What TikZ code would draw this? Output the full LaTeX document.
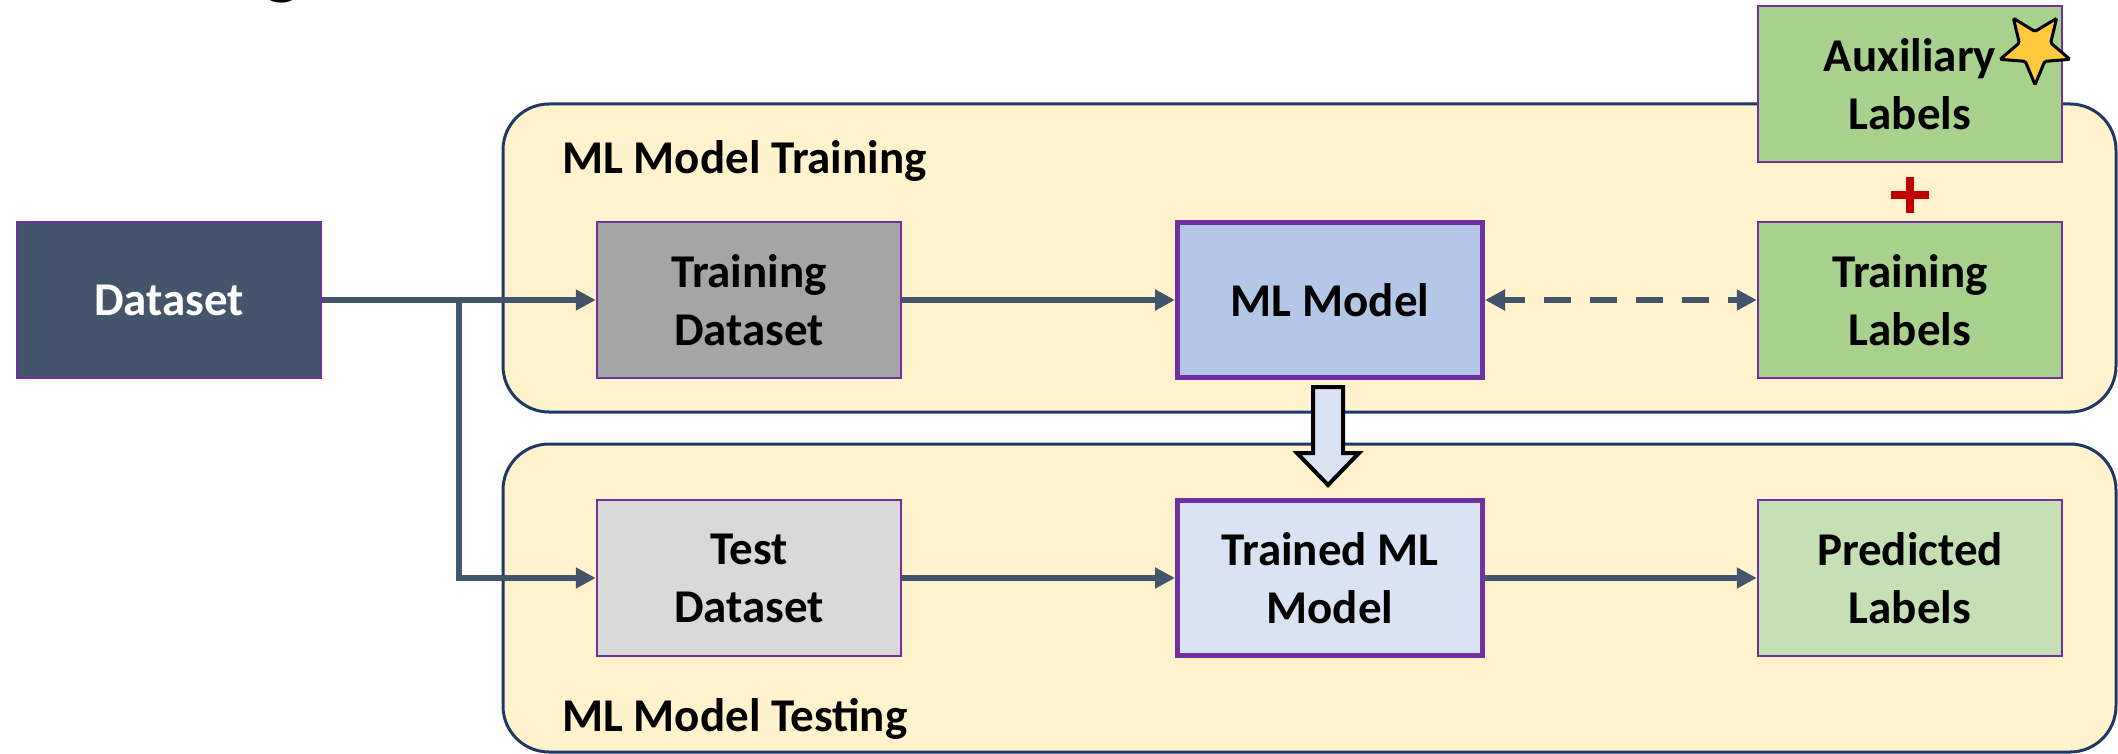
\documentclass[tikz,border=0pt]{standalone}
\usepackage{fontspec}
\setmainfont{Carlito}
\usetikzlibrary{arrows.meta,shapes.geometric}

\definecolor{slate}{HTML}{44546A}
\definecolor{boxpurple}{HTML}{7030A0}
\definecolor{panelfill}{HTML}{FFF2CC}
\definecolor{panelline}{HTML}{1F3864}
\definecolor{greydata}{HTML}{A5A5A5}
\definecolor{lightdata}{HTML}{D9D9D9}
\definecolor{modelblue}{HTML}{B4C7E7}
\definecolor{paleblue}{HTML}{DAE3F3}
\definecolor{labelgreen}{HTML}{A9D18E}
\definecolor{palegreen}{HTML}{C5E0B4}
\definecolor{plusred}{HTML}{C00000}
\definecolor{stargold}{HTML}{FFC83D}

\tikzset{
  txt/.style={font=\fontsize{47}{58}\selectfont\bfseries},
  box/.style={txt, draw=boxpurple, line width=2.5pt, minimum width=304pt,
    minimum height=156pt, inner sep=0pt, align=center},
  boxthick/.style={box, line width=5pt, minimum width=305pt, minimum height=155pt},
  panel/.style={draw=panelline, line width=3pt, fill=panelfill, rounded corners=46pt},
  conn/.style={draw=slate, line width=6pt, -{Triangle[length=20pt,width=20pt]}},
  title/.style={txt, inner sep=0pt, anchor=base west},
}

\begin{document}
\begin{tikzpicture}[x=1pt, y=-1pt]
\useasboundingbox (0,0) rectangle (2118,754);

% cut-off heading glyph at the top edge
\node[font=\fontsize{80}{90}\selectfont\bfseries, inner sep=0pt, anchor=south] (head) at (282,3) {g};

% stage panels
\path[panel] (503,104) rectangle (2116,412);
\path[panel] (503,444) rectangle (2116,752);
\node[title] (trainlbl) at (562,174) {ML Model Training};
\node[title] (testlbl) at (562,731) {ML Model Testing};

% data boxes
\node[box, fill=slate, text=white] (ds) at (169,300) {Dataset};
\node[box, fill=greydata] (trd) at (749,300) {Training\\Dataset};
\node[box, fill=lightdata] (ted) at (749,578) {Test\\Dataset};
\node[boxthick, fill=modelblue] (mlm) at (1330,300) {ML Model};
\node[boxthick, fill=paleblue] (tml) at (1330,578) {Trained ML\\Model};
\node[box, fill=labelgreen] (trl) at (1910,300) {Training\\Labels};
\node[box, fill=labelgreen] (aux) at (1910,84) {Auxiliary\\Labels};
\node[box, fill=palegreen] (prl) at (1910,578) {Predicted\\Labels};

% star marker on the auxiliary labels
\node[star, star points=5, star point ratio=0.45, minimum size=33pt, inner sep=0pt,
  draw=black, line width=3pt, fill=stargold, rounded corners=1.5pt] (star) at (2035,48) {};

% plus sign between label boxes
\coordinate (plus) at (1910,195);
\draw[plusred, line width=8pt] ([xshift=-19pt]plus) -- ([xshift=19pt]plus)
  ([yshift=18pt]plus) -- ([yshift=-18pt]plus);

% data flow
\coordinate (split) at (459,300);
\draw[draw=slate, line width=6pt] (ds.east) -- (split);
\draw[conn] (split) -- (trd.west);
\draw[conn] (split) |- (ted.west);
\draw[conn] (trd.east) -- (mlm.west);
\draw[conn] (ted.east) -- (tml.west);
\draw[conn] (tml.east) -- (prl.west);
\draw[draw=slate, line width=6pt, dash pattern=on 27pt off 19pt, dash phase=6pt,
  {Triangle[length=20pt,width=20pt]}-{Triangle[length=20pt,width=20pt]}] (mlm.east) -- (trl.west);

% block arrow from the model to the trained model
\draw[black, line width=4pt, fill=paleblue, line join=miter]
  (1313,387) -- (1343,387) -- (1343,453) -- (1359,453) -- (1328,485)
  -- (1297,453) -- (1313,453) -- cycle;
\end{tikzpicture}
\end{document}
